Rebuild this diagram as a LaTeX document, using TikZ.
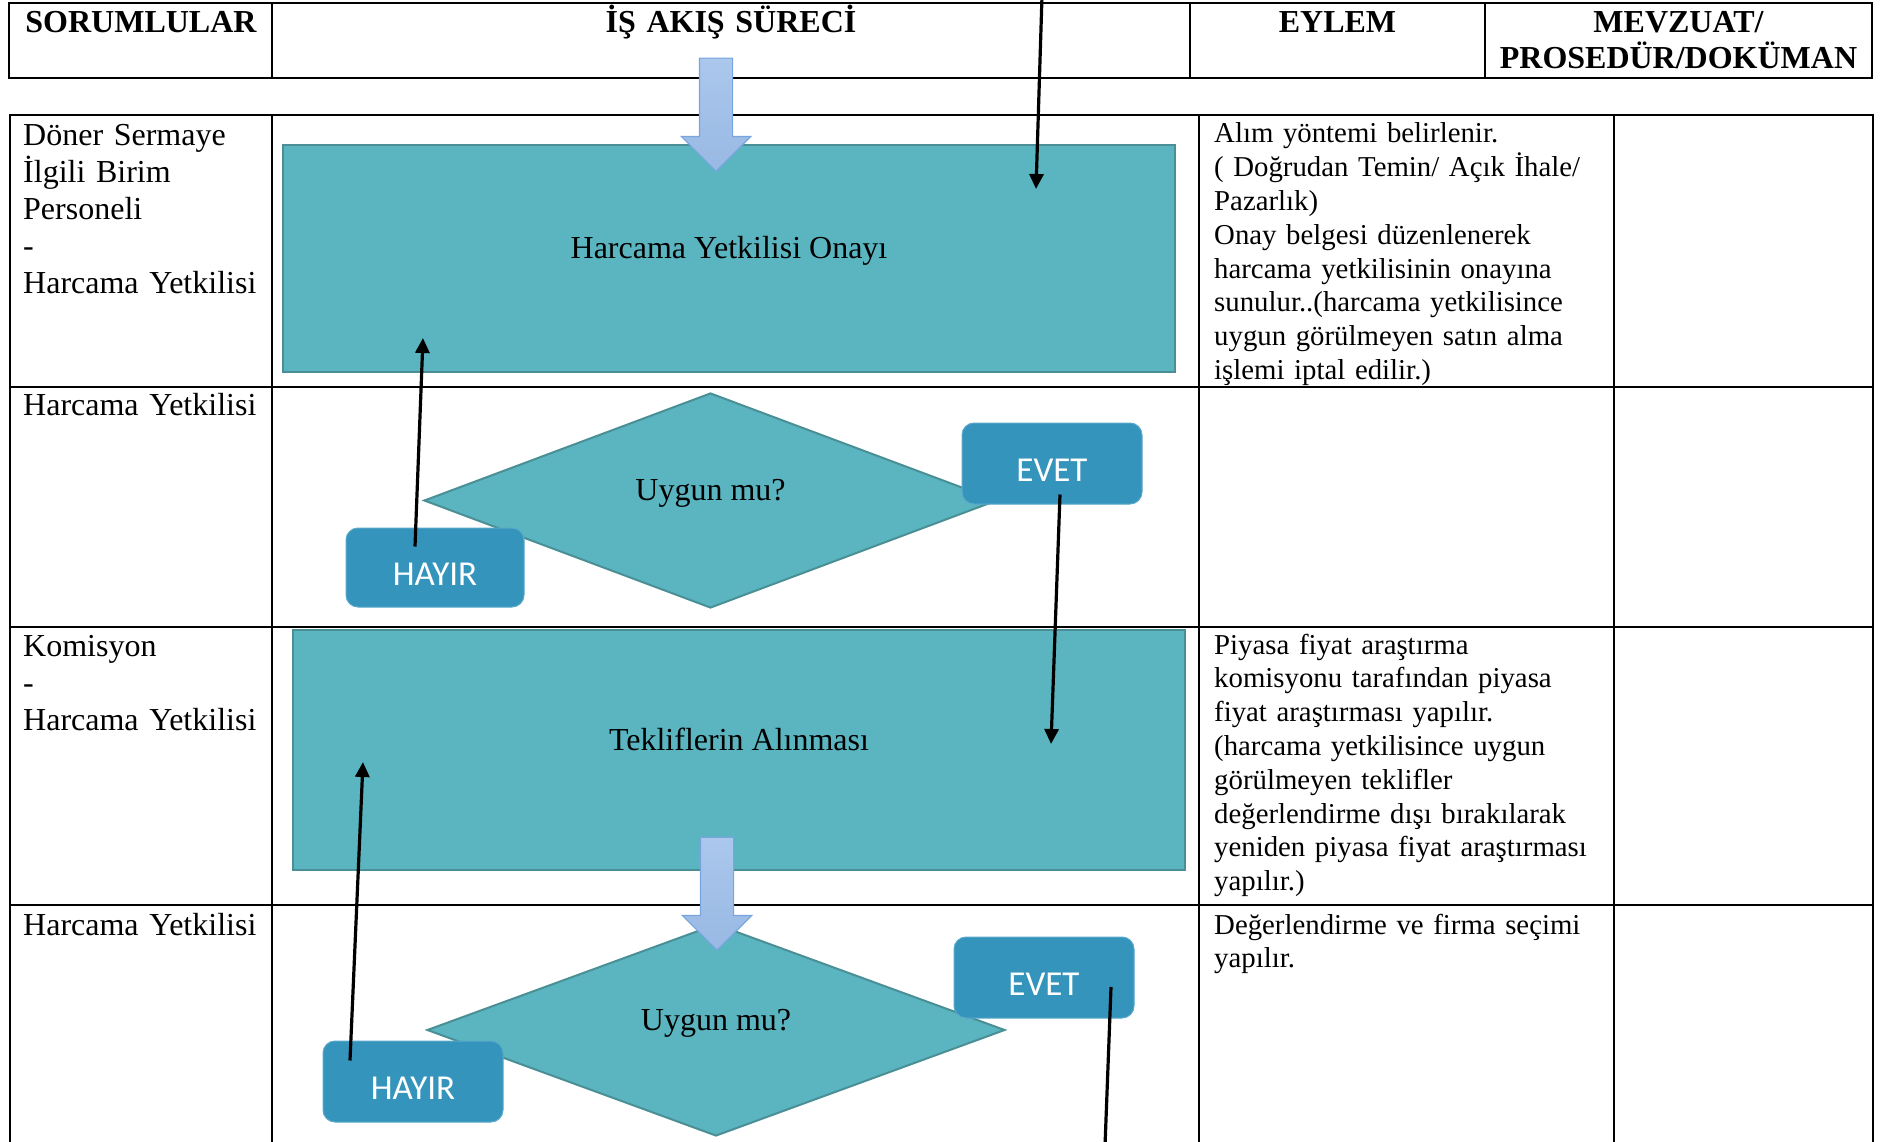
\documentclass[tikz,border=0pt]{standalone}
\usepackage{fontspec}
\setmainfont{Liberation Serif}
\newfontfamily\calibri{Carlito}
\usepackage{tikz}
\usetikzlibrary{
  arrows.meta,
  shapes.geometric,
  shapes.arrows
}
\definecolor{procteal}{HTML}{5AB5C0}
\definecolor{procedge}{HTML}{4A8F95}
\definecolor{answerblue}{HTML}{3594BB}
\definecolor{answeredge}{HTML}{5AA8CB}
\definecolor{flowlight}{HTML}{ABC7EC}
\definecolor{flowdark}{HTML}{98B9E4}
\definecolor{flowedge}{HTML}{78A5DE}

\begin{document}
\begin{tikzpicture}[
  x=1pt, y=-1pt,
  >={Triangle[length=15pt, width=14pt]},
  grid/.style={line width=2.4pt},
  head/.style={
    font=\fontsize{32}{36}\selectfont\bfseries, text width=390pt,
    align=center, anchor=base, inner sep=0pt
  },
  who/.style={
    font=\fontsize{32}{37}\selectfont, text width=250pt,
    align=left, anchor=base west, inner sep=0pt
  },
  act/.style={
    font=\fontsize{28.8}{33.8}\selectfont, text width=395pt,
    align=left, anchor=base west, inner sep=0pt
  },
  proc/.style={
    rectangle, fill=procteal, draw=procedge, line width=2pt,
    font=\fontsize{32}{37}\selectfont, text height=22pt, text depth=22pt
  },
  decide/.style={
    diamond, fill=procteal, draw=procedge, line width=2pt, inner sep=0pt,
    font=\fontsize{32}{37}\selectfont, text height=22pt, text depth=22pt
  },
  answer/.style={
    rectangle, rounded corners=12pt, fill=answerblue, draw=answeredge,
    line width=1pt, minimum width=180pt, minimum height=81pt, text=white,
    font=\calibri\fontsize{35}{40}\selectfont, text height=35pt, text depth=0pt
  },
  flow/.style={
    single arrow, single arrow head extend=18pt, inner xsep=0pt, inner ysep=16pt,
    minimum height=113pt, minimum width=68pt, top color=flowlight, bottom color=flowdark,
    draw=flowedge, line width=1.2pt, rotate=-90, anchor=tip
  },
  link/.style={->, line width=3.2pt}
]
\useasboundingbox (0,0) rectangle (1885,1142);

% header row
\draw[grid] (9,3) rectangle (1872,78);
\foreach \cx in {272,1190,1485}
  \draw[grid] (\cx,3) -- (\cx,78);
\node[head] (hwho) at (141,33) {SORUMLULAR};
\node[head] (hflow) at (731,33) {İŞ AKIŞ SÜRECİ};
\node[head] (hact) at (1337.5,33) {EYLEM};
\node[head] (hdoc) at (1678.5,33) {MEVZUAT/\\PROSEDÜR/DOKÜMAN};

% main table
\draw[grid] (10,1150) -- (10,115) -- (1873,115) -- (1873,1150);
\foreach \ry in {387,627,905}
  \draw[grid] (10,\ry) -- (1873,\ry);
\foreach \cx in {272,1199,1614}
  \draw[grid] (\cx,115) -- (\cx,1150);

\node[who] (who1) at (23,145.5) {Döner Sermaye\\İlgili Birim\\Personeli\\-\\Harcama Yetkilisi};
\node[who] (who2) at (23,415) {Harcama Yetkilisi};
\node[who] (who3) at (23,656) {Komisyon\\-\\Harcama Yetkilisi};
\node[who] (who4) at (23,935) {Harcama Yetkilisi};

\node[act] (act1) at (1214,143) {Alım yöntemi belirlenir.\\( Doğrudan Temin/ Açık İhale/\\Pazarlık)\\Onay belgesi düzenlenerek\\harcama yetkilisinin onayına\\sunulur..(harcama yetkilisince\\uygun görülmeyen satın alma\\işlemi iptal edilir.)};
\node[act] (act3) at (1214,654) {Piyasa fiyat araştırma\\komisyonu tarafından piyasa\\fiyat araştırması yapılır.\\(harcama yetkilisince uygun\\görülmeyen teklifler\\değerlendirme dışı bırakılarak\\yeniden piyasa fiyat araştırması\\yapılır.)};
\node[act] (act4) at (1214,934) {Değerlendirme ve firma seçimi\\yapılır.};

% flow
\node[proc, minimum width=892pt, minimum height=227pt] (onay) at (729,258.5) {Harcama Yetkilisi Onayı};
\node[flow] (flow1) at (716,172) {};
\node[decide, minimum width=573pt, minimum height=215pt] (check1) at (710.5,500.5) {Uygun mu?};
\node[answer] (evet1) at (1052,463.5) {EVET};
\node[answer, minimum width=178pt, minimum height=79pt] (hayir1) at (435,567.5) {HAYIR};

\node[proc, minimum width=892pt, minimum height=240pt] (teklif) at (739,750) {Tekliflerin Alınması};
\node[decide, minimum width=578pt, minimum height=212pt] (check2) at (716,1030) {Uygun mu?};
\node[flow] (flow2) at (717,951) {};
\node[answer] (evet2) at (1044,977.5) {EVET};
\node[answer] (hayir2) at (413,1081.5) {HAYIR};

\coordinate (topin) at (1042,-4);
\coordinate (botout) at (1105,1146);

\draw[link] (topin) -- ([shift={(307,45)}]onay.north);
\draw[link] ([shift={(-20,19)}]hayir1.north) -- ([shift={(-306,-35)}]onay.south);
\draw[link] ([shift={(8,-10)}]evet1.south) -- ([shift={(312,-6)}]teklif.center);
\draw[link] ([shift={(-63,20)}]hayir2.north) -- ([shift={(-376,12)}]teklif.center);
\draw[line width=3.2pt] ([shift={(67,9.5)}]evet2.center) -- (botout);

\end{tikzpicture}
\end{document}
